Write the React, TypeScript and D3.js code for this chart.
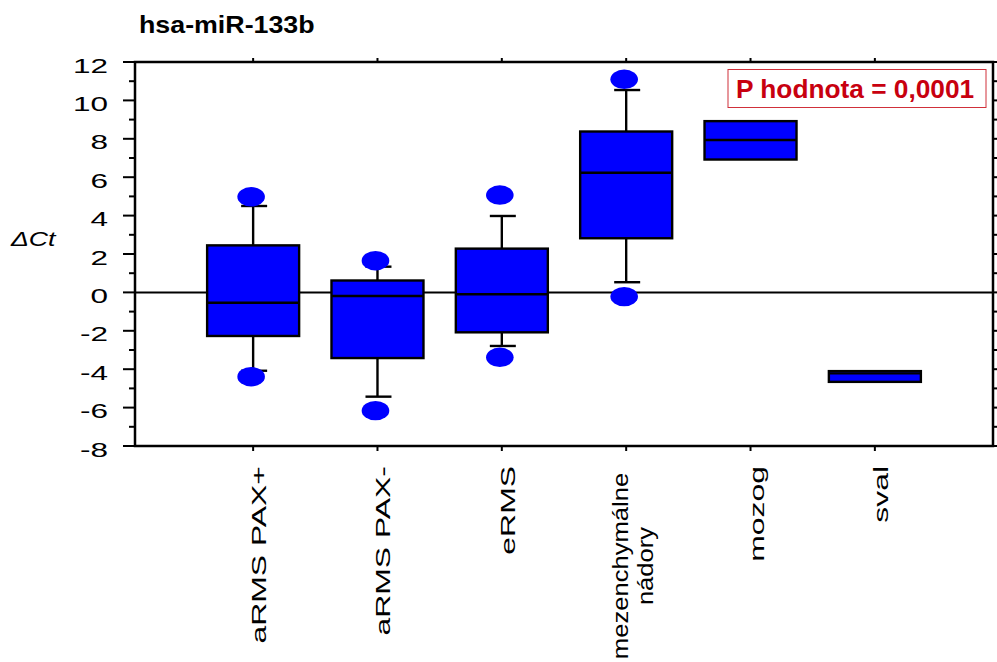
import React from "react";
import * as d3 from "d3";

const title = "hsa-miR-133b";
const yLabel = "ΔCt";
const pText = "P hodnota = 0,0001";
const categories = ["aRMS PAX+", "aRMS PAX-", "eRMS", "mezenchymálne nádory", "mozog", "sval"];
const categoryLines = [["aRMS PAX+"], ["aRMS PAX-"], ["eRMS"], ["mezenchymálne", "nádory"], ["mozog"], ["sval"]];
const q1 = [-2.27, -3.42, -2.08, 2.82, 6.92, -4.66];
const medians = [-0.54, -0.19, -0.10, 6.23, 7.94, -4.22];
const q3 = [2.45, 0.62, 2.28, 8.38, 8.92, -4.10];
const whiskerLow: (number | null)[] = [-4.08, -5.43, -2.79, 0.53, null, null];
const whiskerHigh: (number | null)[] = [4.50, 1.34, 3.98, 10.54, null, null];
const outliers: number[][] = [[4.98, -4.39], [1.65, -6.16], [5.07, -3.38], [11.1, -0.22], [], []];
const yTicks = d3.range(-8, 13, 2);
const yMinorTicks = d3.range(-7, 12, 2);
const yAllTicks = d3.range(-8, 13, 1);

const FONT = "'Liberation Sans', Arial, sans-serif";

function T({ x, y, rot = 0, sx = 1, children, ...rest }: any) {
  return (
    <text transform={`translate(${x},${y}) rotate(${rot}) scale(${sx},1)`} fontFamily={FONT} {...rest}>
      {children}
    </text>
  );
}

export default function App() {
  const W = 997, H = 662;
  const left = 135, right = 993, top = 62, bottom = 446;
  const y = d3.scaleLinear().domain([-8, 12]).range([bottom, top]);
  const x = d3.scalePoint<string>().domain(categories).range([left, right]).padding(0.95);
  const boxW = 92;
  const sw = 2.4;

  return (
    <svg width={W} height={H} style={{ position: "absolute", left: 0, top: 0, background: "#fff" }}>
      <rect x={0} y={0} width={W} height={H} fill="#fff" />
      {/* title */}
      <T x={139} y={33} sx={1.14} fontSize={23.5} fontWeight="bold" fill="#000">{title}</T>
      {/* y label */}
      <T x={11} y={246} sx={1.3} fontSize={20.5} fontStyle="italic" fill="#000">{yLabel}</T>
      {/* y tick labels */}
      {yTicks.map((t) => (
        <T key={"yl" + t} x={108} y={y(t) + 10.5} sx={1.5} fontSize={21} textAnchor="end" fill="#000">
          {t}
        </T>
      ))}
      {/* zero line */}
      <line x1={left} x2={right} y1={y(0)} y2={y(0)} stroke="#000" strokeWidth={2} />
      {/* left ticks */}
      {yTicks.map((t) => (
        <line key={"ym" + t} x1={123} x2={left} y1={y(t)} y2={y(t)} stroke="#000" strokeWidth={2} />
      ))}
      {yMinorTicks.map((t) => (
        <line key={"yn" + t} x1={129} x2={left} y1={y(t)} y2={y(t)} stroke="#000" strokeWidth={2} />
      ))}
      {/* right ticks */}
      {yAllTicks.map((t) => (
        <line key={"yr" + t} x1={right} x2={997} y1={y(t)} y2={y(t)} stroke="#000" strokeWidth={2} />
      ))}
      {/* top / bottom ticks */}
      {categories.map((c) => (
        <g key={"xt" + c}>
          <line x1={x(c)!} x2={x(c)!} y1={top} y2={top - 4} stroke="#000" strokeWidth={2} />
          <line x1={x(c)!} x2={x(c)!} y1={bottom} y2={bottom + 5} stroke="#000" strokeWidth={2} />
        </g>
      ))}
      {/* frame */}
      <rect x={left} y={top} width={right - left} height={bottom - top} fill="none" stroke="#000" strokeWidth={2.5} />
      {/* boxes */}
      {categories.map((c, i) => {
        const cx = x(c)!;
        const wl = whiskerLow[i], wh = whiskerHigh[i];
        return (
          <g key={"b" + c}>
            {wh !== null && (
              <g>
                <line x1={cx} x2={cx} y1={y(q3[i])} y2={y(wh)} stroke="#000" strokeWidth={sw} />
                <line x1={cx - 12} x2={cx + 14} y1={y(wh)} y2={y(wh)} stroke="#000" strokeWidth={sw} />
              </g>
            )}
            {wl !== null && (
              <g>
                <line x1={cx} x2={cx} y1={y(q1[i])} y2={y(wl)} stroke="#000" strokeWidth={sw} />
                <line x1={cx - 12} x2={cx + 14} y1={y(wl)} y2={y(wl)} stroke="#000" strokeWidth={sw} />
              </g>
            )}
            <rect x={cx - boxW / 2} y={y(q3[i])} width={boxW} height={y(q1[i]) - y(q3[i])} fill="#0000ff" stroke="#000" strokeWidth={sw} />
            <line x1={cx - boxW / 2} x2={cx + boxW / 2} y1={y(medians[i])} y2={y(medians[i])} stroke="#000" strokeWidth={sw} />
            {outliers[i].map((o, k) => (
              <ellipse key={k} cx={cx - 2} cy={y(o)} rx={13.8} ry={9.7} fill="#0000ff" />
            ))}
          </g>
        );
      })}
      {/* category labels */}
      {categories.map((c, i) => {
        const cx = x(c)!;
        const lines = categoryLines[i];
        if (lines.length === 1) {
          return (
            <T key={"cl" + c} x={cx + 13} y={466} rot={-90} sx={1.52} fontSize={21} textAnchor="end" fill="#000">
              {lines[0]}
            </T>
          );
        }
        return (
          <g key={"cl" + c}>
            {lines.map((l, k) => (
              <T key={k} x={cx + 2 + k * 25} y={566} rot={-90} sx={1.19} fontSize={21.5} textAnchor="middle" fill="#000">
                {l}
              </T>
            ))}
          </g>
        );
      })}
      {/* p-value box */}
      <rect x={728} y={69.5} width={258} height={38} fill="#fff" stroke="#d0303a" strokeWidth={1} />
      <T x={736} y={97.5} sx={1.03} fontSize={25.5} fontWeight="bold" fill="#c8000f">{pText}</T>
    </svg>
  );
}
